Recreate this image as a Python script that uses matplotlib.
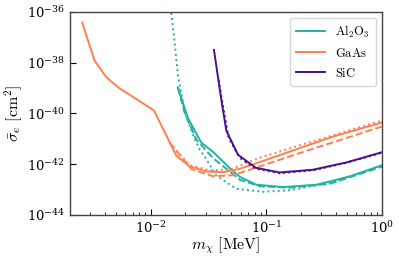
import matplotlib
matplotlib.use("Agg")
import matplotlib.pyplot as plt
from matplotlib.ticker import LogLocator, NullLocator

plt.rcParams['mathtext.fontset'] = 'cm'
plt.rcParams['font.family'] = ['DejaVu Serif']

# GaAs
gaas_solid_m = [2.56e-3, 3.27e-3, 4.13e-3, 5.21e-3, 1.07e-2, 1.67e-2, 2.18e-2, 3.04e-2, 4.23e-2, 5.90e-2, 0.1005, 0.195, 0.379, 1.0]
gaas_solid_s = [3.79e-37, 1.21e-38, 2.69e-39, 1.08e-39, 1.30e-40, 2.14e-42, 8.13e-43, 5.17e-43, 4.80e-43, 6.59e-43, 1.49e-42, 4.31e-42, 1.23e-41, 4.38e-41]
gaas_dash_m = [1.46e-2, 2.25e-2, 3.46e-2, 5.16e-2, 7.20e-2, 0.195, 1.0]
gaas_dash_s = [6.96e-42, 6.41e-43, 3.34e-43, 3.66e-43, 6.03e-43, 2.74e-42, 3.05e-41]
gaas_dot_m = [1.46e-2, 2.18e-2, 3.24e-2, 4.83e-2, 8.79e-2, 0.195, 1.0]
gaas_dot_s = [6.96e-42, 9.06e-43, 5.75e-43, 6.03e-43, 1.79e-42, 5.55e-42, 5.25e-41]

# Al2O3
al_solid_m = [1.72e-2, 2.10e-2, 2.75e-2, 3.46e-2, 4.83e-2, 5.90e-2, 8.22e-2, 0.140, 0.272, 0.528, 1.0]
al_solid_s = [1.07e-39, 6.53e-41, 6.96e-42, 3.08e-42, 7.02e-43, 3.19e-43, 1.55e-43, 1.25e-43, 1.55e-43, 3.28e-43, 9.06e-43]
al_dash_m = [1.72e-2, 1.97e-2, 2.49e-2, 3.46e-2, 4.83e-2, 5.90e-2, 8.79e-2, 0.160, 0.355, 1.0]
al_dash_s = [1.07e-39, 1.06e-40, 9.14e-42, 1.74e-42, 5.16e-43, 2.43e-43, 1.35e-43, 1.18e-43, 1.69e-43, 7.91e-43]
al_dot_m = [1.51e-2, 1.61e-2, 1.72e-2, 1.97e-2, 2.32e-2, 2.66e-2, 2.94e-2, 3.71e-2, 5.52e-2, 9.38e-2, 0.160, 0.355, 0.787]
al_dot_s = [9.14e-37, 6.59e-38, 3.31e-39, 1.16e-40, 1.44e-41, 3.69e-42, 1.95e-42, 3.49e-43, 1.07e-43, 8.18e-44, 9.38e-44, 1.85e-43, 6.03e-43]

# SiC
sic_solid_m = [3.53e-2, 4.09e-2, 4.52e-2, 5.70e-2, 8.11e-2, 0.131, 0.254, 0.495, 1.0]
sic_solid_s = [3.19e-38, 3.43e-40, 2.07e-41, 2.34e-42, 7.21e-43, 4.71e-43, 6.03e-43, 1.17e-42, 2.94e-42]
sic_dot_m = [3.88e-2, 4.20e-2, 4.73e-2, 5.90e-2, 8.11e-2, 0.131, 0.254, 0.495, 1.0]
sic_dot_s = [2.10e-39, 2.18e-40, 1.09e-41, 1.79e-42, 6.59e-43, 4.38e-43, 5.75e-43, 1.14e-42, 2.81e-42]

labels = [r'$\mathrm{Al_2O_3}$', r'$\mathrm{GaAs}$', r'$\mathrm{SiC}$']
c_al, c_ga, c_si = '#20b2a2', '#ff7f50', '#4b0f8c'

fig = plt.figure(figsize=(3.99, 2.65), dpi=100)
ax = fig.add_axes([0.175, 0.189, 0.782, 0.766])
lw = 1.4
ax.plot(al_solid_m, al_solid_s, color=c_al, lw=lw, label=labels[0])
ax.plot(al_dash_m, al_dash_s, color=c_al, lw=lw, ls='--')
ax.plot(al_dot_m, al_dot_s, color=c_al, lw=lw, ls=':')
ax.plot(gaas_solid_m, gaas_solid_s, color=c_ga, lw=lw, label=labels[1])
ax.plot(gaas_dash_m, gaas_dash_s, color=c_ga, lw=lw, ls='--')
ax.plot(gaas_dot_m, gaas_dot_s, color=c_ga, lw=lw, ls=':')
ax.plot(sic_solid_m, sic_solid_s, color=c_si, lw=lw, label=labels[2])
ax.plot(sic_dot_m, sic_dot_s, color=c_si, lw=lw, ls=':')

ax.set_xscale('log')
ax.set_yscale('log')
ax.set_xlim(2e-3, 1)
ax.set_ylim(1e-44, 1e-36)
ax.set_yticks([1e-44, 1e-42, 1e-40, 1e-38, 1e-36])
ax.yaxis.set_minor_locator(NullLocator())
ax.xaxis.set_major_locator(LogLocator(base=10, numticks=10))
ax.xaxis.set_minor_locator(LogLocator(base=10, subs=range(2, 10), numticks=10))
ax.tick_params(which='both', direction='in', labelsize=9.5)
ax.tick_params(which='major', length=4)
ax.tick_params(which='minor', length=2)
for s in ax.spines.values():
    s.set_color('#444444')
    s.set_linewidth(1.0)
ax.set_xlabel(r'$m_\chi\ [\mathrm{MeV}]$', fontsize=11.5)
ax.set_ylabel(r'$\bar{\sigma}_e\ [\mathrm{cm}^2]$', fontsize=11.5)
ax.xaxis.set_label_coords(0.5, -0.1)
ax.yaxis.set_label_coords(-0.145, 0.5)
leg = ax.legend(loc='upper right', fontsize=9, frameon=True, fancybox=True,
                handlelength=2.3, borderpad=0.5, labelspacing=0.55,
                borderaxespad=0.45)
leg.get_frame().set_edgecolor('#cccccc')
fig.savefig('out.png', dpi=100)
